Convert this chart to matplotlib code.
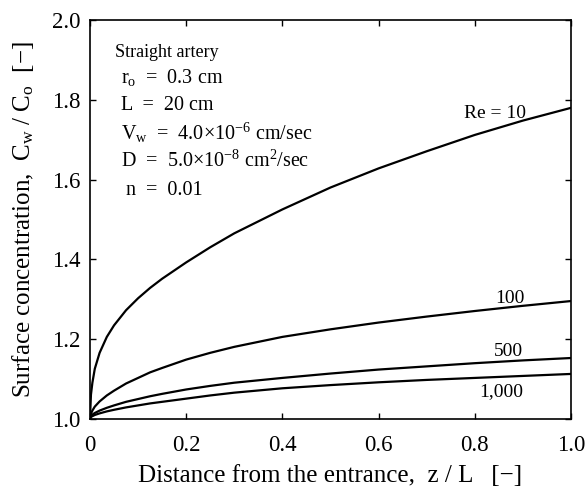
import matplotlib
matplotlib.use('Agg')
import matplotlib.pyplot as plt

# z/L
z = [0, 0.002, 0.005, 0.01, 0.02, 0.035, 0.05, 0.075, 0.1, 0.125, 0.15, 0.2, 0.25,
     0.3, 0.4, 0.5, 0.6, 0.7, 0.8, 0.9, 1.0]

# Cw/Co for each Reynolds number
re10 = [1.0, 1.06, 1.09, 1.125, 1.165, 1.205, 1.234, 1.272, 1.302, 1.328, 1.351, 1.392, 1.43,
        1.465, 1.525, 1.58, 1.628, 1.671, 1.712, 1.748, 1.78]
re100 = [1.0, 1.012, 1.02, 1.03, 1.043, 1.058, 1.07, 1.088, 1.102, 1.116, 1.127, 1.148, 1.165,
         1.18, 1.205, 1.224, 1.241, 1.256, 1.27, 1.283, 1.295]
re500 = [1.0, 1.006, 1.01, 1.014, 1.02, 1.027, 1.033, 1.042, 1.049, 1.056, 1.062, 1.073, 1.082,
         1.09, 1.102, 1.113, 1.123, 1.131, 1.139, 1.146, 1.152]
re1000 = [1.0, 1.004, 1.006, 1.009, 1.013, 1.018, 1.022, 1.028, 1.033, 1.038, 1.042, 1.05, 1.058,
          1.065, 1.076, 1.084, 1.091, 1.097, 1.102, 1.107, 1.112]

curve_labels = ['Re = 10', '100', '500', '1,000']
label_pos = [(0.778, 1.754), (0.842, 1.29), (0.84, 1.157), (0.809, 1.056)]

xticks = [0, 0.2, 0.4, 0.6, 0.8, 1.0]
xticklabels = ['0', '0.2', '0.4', '0.6', '0.8', '1.0']
yticks = [1.0, 1.2, 1.4, 1.6, 1.8, 2.0]

plt.rcParams['font.family'] = ['Liberation Serif', 'DejaVu Serif']
plt.rcParams['mathtext.fontset'] = 'custom'
plt.rcParams['mathtext.rm'] = 'Liberation Serif'
plt.rcParams['mathtext.it'] = 'Liberation Serif:italic'

fig = plt.figure(figsize=(5.87, 4.93), dpi=100)
ax = fig.add_axes([0.1533, 0.151, 0.8194, 0.808])

for ys in [re10, re100, re500, re1000]:
    ax.plot(z, ys, color='black', lw=1.6)

for txt, (px, py) in zip(curve_labels, label_pos):
    ax.text(px, py, txt, fontsize=14)

# parameter block
ax.text(0.052, 1.907, 'Straight artery', fontsize=13)
params = [r'r$_\mathrm{o}$  =  0.3 cm',
          'L  =  20 cm',
          r'V$_\mathrm{w}$  =  4.0$\times$10$^{\mathrm{-6}}$ cm/sec',
          r'D  =  5.0$\times$10$^{\mathrm{-8}}$ cm$^\mathrm{2}$/sec',
          ' n  =  0.01']
py = [1.842, 1.774, 1.701, 1.631, 1.561]
for t, yy in zip(params, py):
    ax.text(0.064, yy, t, fontsize=14.5)

ax.set_xlim(0, 1.0)
ax.set_ylim(1.0, 2.0)
ax.set_xticks(xticks)
ax.set_xticklabels(xticklabels)
ax.set_yticks(yticks)
ax.tick_params(direction='in', top=True, right=True, length=4, width=1,
               labelsize=16.5)
ax.tick_params(axis='x', pad=12)
ax.tick_params(axis='y', pad=7)
for s in ax.spines.values():
    s.set_linewidth(1.2)

ax.set_xlabel('Distance from the entrance,  z / L   [\u2212]', fontsize=18, labelpad=6)
ax.set_ylabel(r'Surface concentration,  C$_\mathrm{w}$ / C$_\mathrm{o}$  [' + '\u2212]',
              fontsize=18, labelpad=11)

fig.savefig('out.png', dpi=100)
